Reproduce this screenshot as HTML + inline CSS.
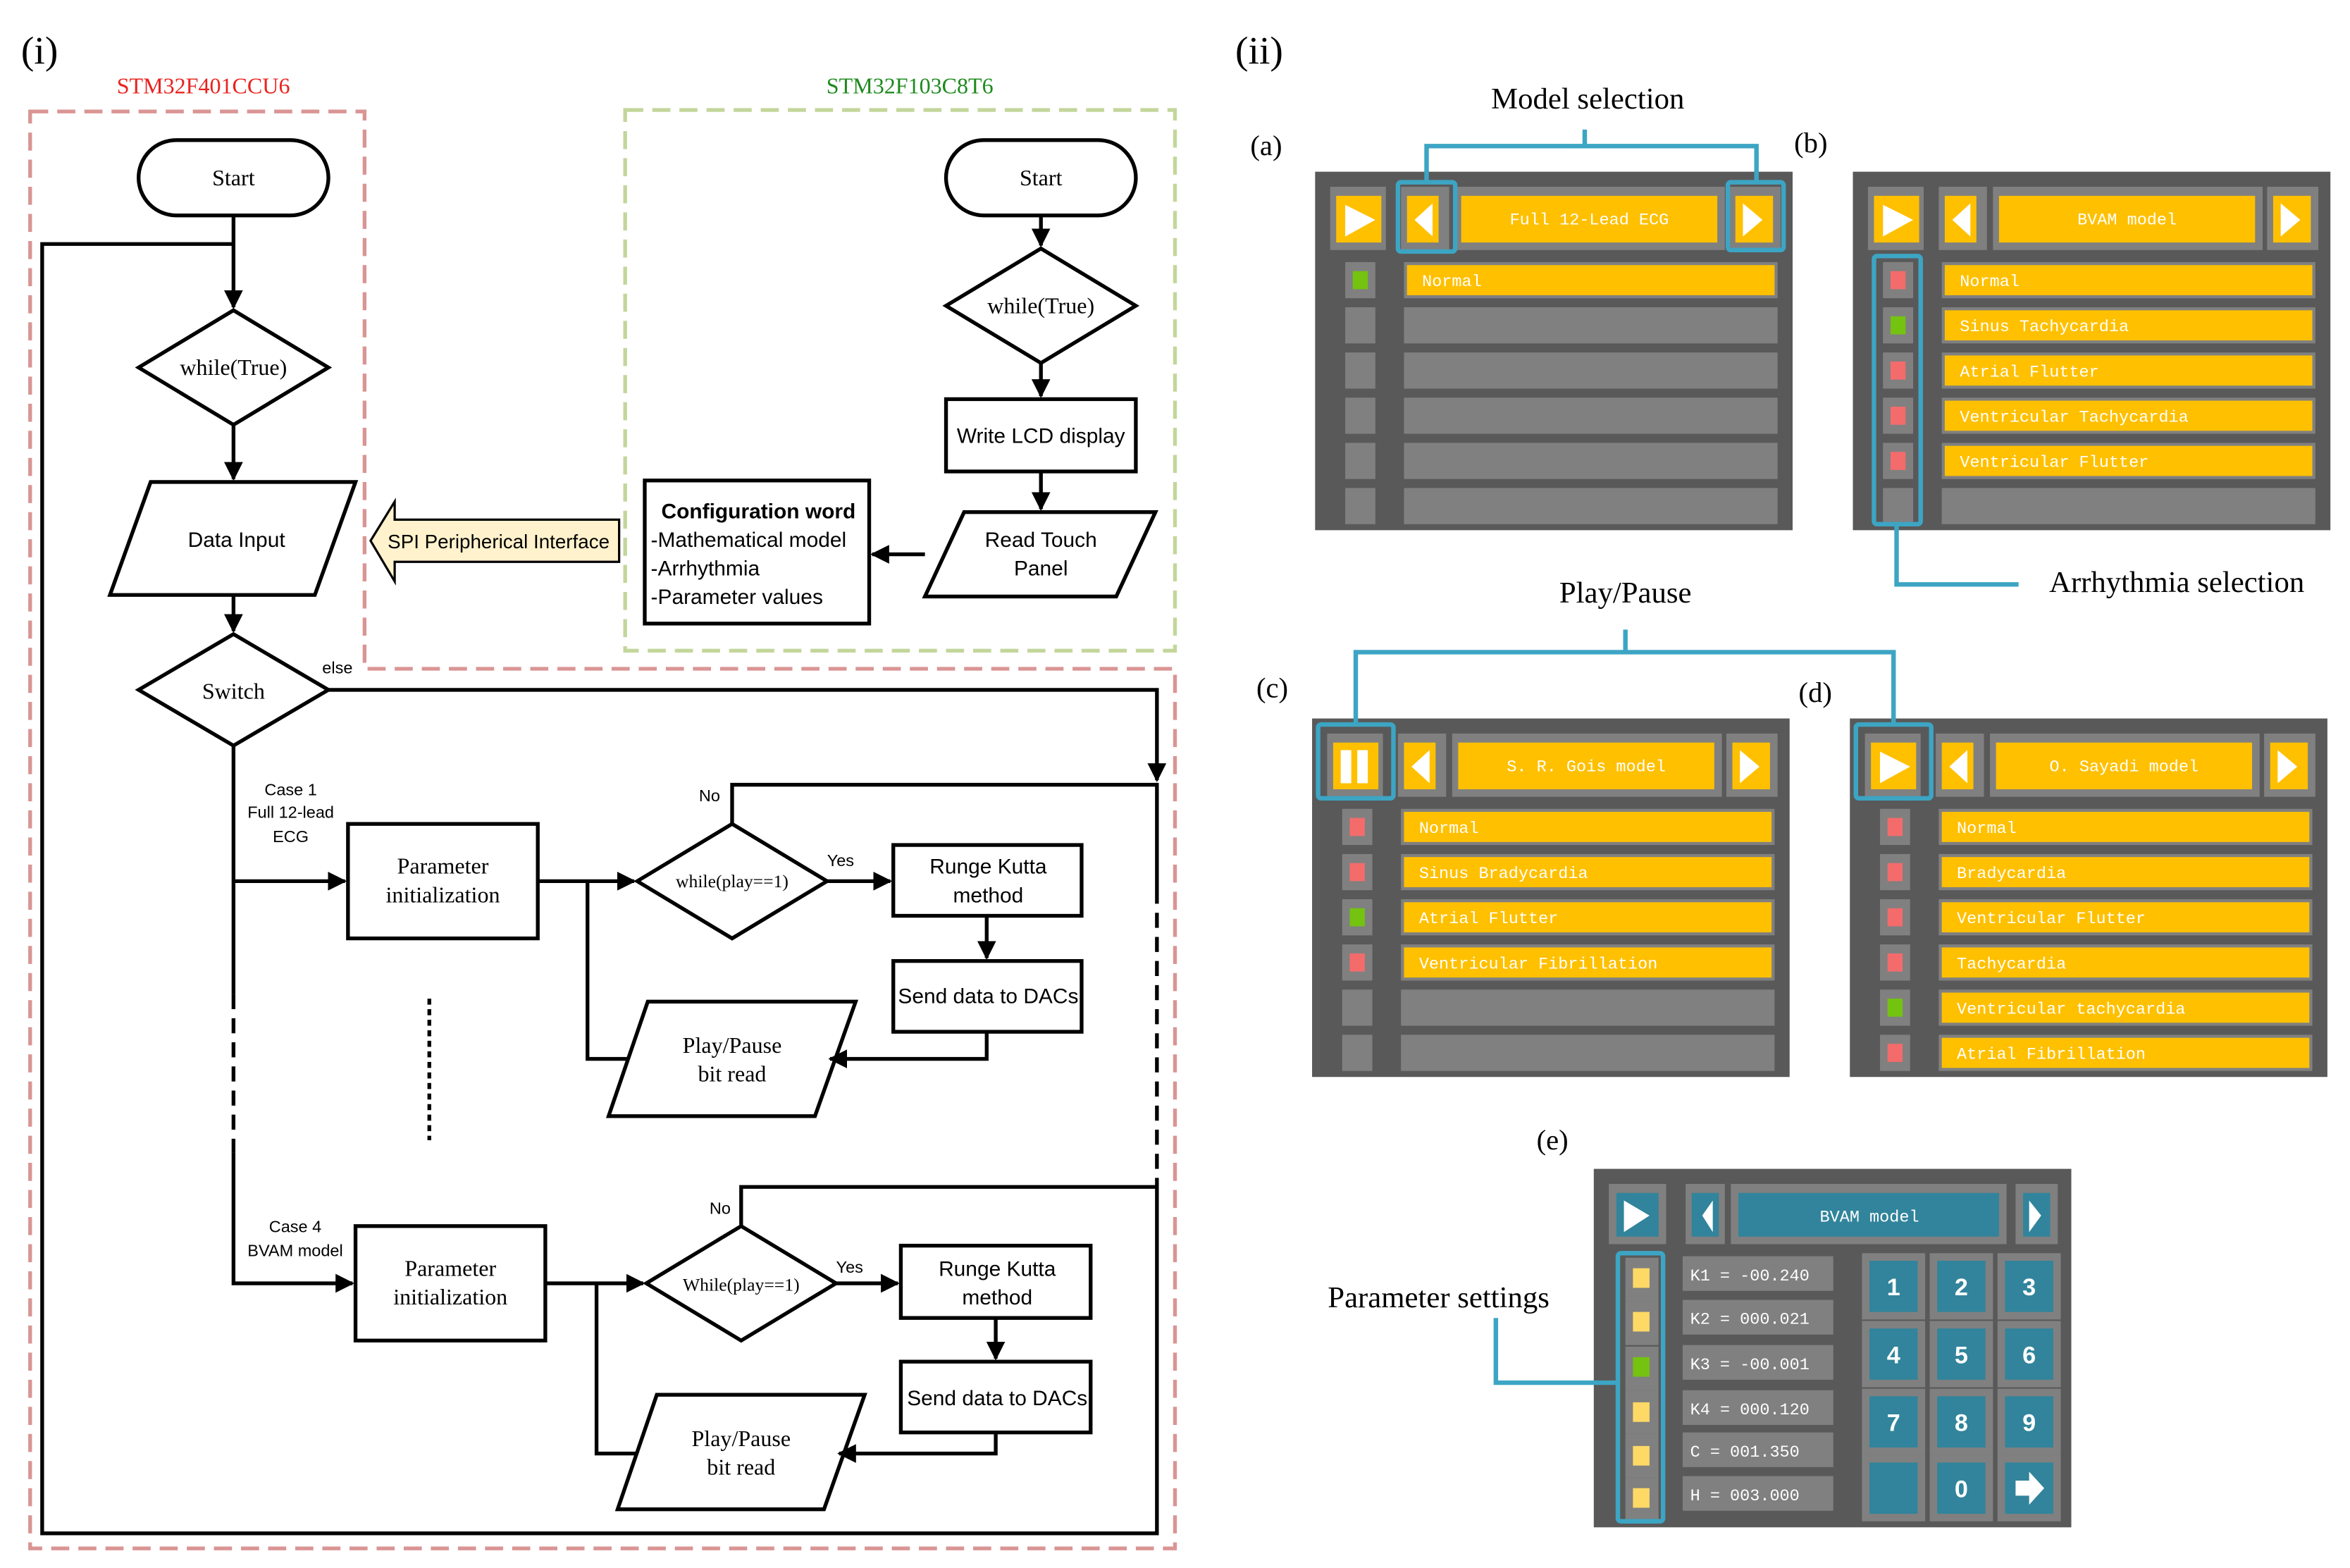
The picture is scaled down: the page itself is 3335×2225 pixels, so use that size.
<!DOCTYPE html>
<html><head><meta charset="utf-8"><style>
html,body{margin:0;padding:0;background:#fff}
svg{display:block}
.s{font-family:"Liberation Sans",sans-serif}
.r{font-family:"Liberation Serif",serif}
.m{font-family:"Liberation Mono",monospace;fill:#fff;font-size:11px}
</style></head><body>
<svg width="3335" height="2225" viewBox="0 0 1560 1041" preserveAspectRatio="none" xmlns="http://www.w3.org/2000/svg">
<defs>
<marker id="a" viewBox="0 0 10 10" refX="9" refY="5" markerWidth="5" markerHeight="5" orient="auto"><path d="M0,0L10,5L0,10z" fill="#000"/></marker>
<g id="hdr">
<rect x="0" y="0" width="317" height="238" fill="#595959"/>
<rect x="10" y="10" width="37" height="42" fill="#808080"/><rect x="14" y="16" width="30" height="31" fill="#FFC000"/>
<rect x="57" y="10" width="32" height="42" fill="#808080"/><rect x="61" y="16" width="21" height="31" fill="#FFC000"/>
<polygon points="78,21 66,32 78,43" fill="#fff"/>
<rect x="93" y="10" width="179" height="42" fill="#808080"/><rect x="97" y="16" width="170" height="31" fill="#FFC000"/>
<rect x="275" y="10" width="34" height="42" fill="#808080"/><rect x="279" y="16" width="25" height="31" fill="#FFC000"/>
<polygon points="284,21 297,32 284,43" fill="#fff"/>
</g>
<g id="play"><polygon points="20,22 40,32 20,43" fill="#fff"/></g>
<g id="rowE"><rect x="20" y="0" width="20" height="24" fill="#808080"/><rect x="59" y="0" width="248" height="24" fill="#808080"/></g>
<g id="rowY"><rect x="20" y="0" width="20" height="24" fill="#808080"/><rect x="59" y="0" width="248" height="24" fill="#808080"/><rect x="61" y="2" width="244" height="20" fill="#FFC000"/></g>
<g id="key"><rect x="0" y="0" width="42" height="44" fill="#808080"/><rect x="5" y="5" width="32" height="34" fill="#31849B"/></g>
</defs>

<!-- ===== Part (i) ===== -->
<text x="14" y="42" class="r" font-size="26">(i)</text>
<text x="820" y="42" class="r" font-size="26">(ii)</text>
<text x="135" y="62" class="r" font-size="15" fill="#E8231F" text-anchor="middle">STM32F401CCU6</text>
<text x="604" y="62" class="r" font-size="15" fill="#1E8A1E" text-anchor="middle">STM32F103C8T6</text>
<path d="M20,74H242V444H780V1028H20Z" fill="none" stroke="#D99594" stroke-width="2.5" stroke-dasharray="12,6"/>
<rect x="415" y="73" width="365" height="359" fill="none" stroke="#C3D69B" stroke-width="2.5" stroke-dasharray="12,6"/>

<g fill="none" stroke="#000" stroke-width="2.5">
<rect x="92" y="93" width="126" height="50" rx="25" fill="#fff"/>
<rect x="628" y="93" width="126" height="50" rx="25" fill="#fff"/>
<polygon points="92,244 155,206 218,244 155,282" fill="#fff"/>
<polygon points="628,203 691,165 754,203 691,241" fill="#fff"/>
<rect x="628" y="265" width="126" height="48" fill="#fff"/>
<polygon points="640,340 767,340 741,396 614,396" fill="#fff"/>
<rect x="428" y="319" width="149" height="95" fill="#fff"/>
<polygon points="100,320 236,320 209,395 73,395" fill="#fff"/>
<polygon points="92,458 155,421 218,458 155,495" fill="#fff"/>
<rect x="231" y="547" width="126" height="76"/>
<polygon points="423,585 486,547 549,585 486,623"/>
<rect x="593" y="561" width="125" height="47"/>
<rect x="593" y="638" width="125" height="47"/>
<polygon points="430,665 568,665 541,741 404,741"/>
<rect x="236" y="814" width="126" height="76"/>
<polygon points="429,852 492,814 555,852 492,890"/>
<rect x="598" y="827" width="126" height="48"/>
<rect x="598" y="904" width="126" height="47"/>
<polygon points="436,926 574,926 547,1002 410,1002"/>
</g>
<polygon points="246,359 262,333 262,345 411,345 411,373 262,373 262,386" fill="#FFF2CC" stroke="#000" stroke-width="1.5"/>

<g fill="none" stroke="#000" stroke-width="2.5">
<path d="M155,143V204" marker-end="url(#a)"/>
<path d="M155,162H28V1018H768V790"/>
<path d="M155,282V318" marker-end="url(#a)"/>
<path d="M155,395V419" marker-end="url(#a)"/>
<path d="M691,143V163" marker-end="url(#a)"/>
<path d="M691,241V263" marker-end="url(#a)"/>
<path d="M691,313V338" marker-end="url(#a)"/>
<path d="M614,368H579" marker-end="url(#a)"/>
<path d="M218,458H768V518" marker-end="url(#a)"/>
<path d="M486,547V521H768V590"/>
<path d="M768,590V790" stroke-dasharray="10,6"/>
<path d="M492,814V788H768"/>
<path d="M155,495V660"/>
<path d="M155,660V765" stroke-dasharray="10,6"/>
<path d="M155,765V852H234" marker-end="url(#a)"/>
<path d="M155,585H229" marker-end="url(#a)"/>
<path d="M357,585H421" marker-end="url(#a)"/>
<path d="M549,585H591" marker-end="url(#a)"/>
<path d="M655,608V636" marker-end="url(#a)"/>
<path d="M655,685V703H551" marker-end="url(#a)"/>
<path d="M417,703H390V585"/>
<path d="M362,852H427" marker-end="url(#a)"/>
<path d="M555,852H596" marker-end="url(#a)"/>
<path d="M661,875V902" marker-end="url(#a)"/>
<path d="M661,951V965H557" marker-end="url(#a)"/>
<path d="M423,965H396V852"/>
<path d="M285,663V757" stroke-dasharray="4,3"/>
</g>

<g font-size="15" text-anchor="middle">
<text x="155" y="123" class="r">Start</text>
<text x="691" y="123" class="r">Start</text>
<text x="155" y="249" class="r">while(True)</text>
<text x="691" y="208" class="r">while(True)</text>
<text x="691" y="294" class="s" font-size="14">Write LCD display</text>
<text x="691" y="363" class="s" font-size="14">Read Touch</text>
<text x="691" y="382" class="s" font-size="14">Panel</text>
<text x="157" y="363" class="s" font-size="14">Data Input</text>
<text x="155" y="464" class="r">Switch</text>
<text x="294" y="580" class="r">Parameter</text>
<text x="294" y="599" class="r">initialization</text>
<text x="486" y="589" class="r" font-size="12">while(play==1)</text>
<text x="656" y="580" class="s" font-size="14">Runge Kutta</text>
<text x="656" y="599" class="s" font-size="14">method</text>
<text x="656" y="666" class="s" font-size="14">Send data to DACs</text>
<text x="486" y="699" class="r">Play/Pause</text>
<text x="486" y="718" class="r">bit read</text>
<text x="299" y="847" class="r">Parameter</text>
<text x="299" y="866" class="r">initialization</text>
<text x="492" y="857" class="r" font-size="12">While(play==1)</text>
<text x="662" y="847" class="s" font-size="14">Runge Kutta</text>
<text x="662" y="866" class="s" font-size="14">method</text>
<text x="662" y="933" class="s" font-size="14">Send data to DACs</text>
<text x="492" y="960" class="r">Play/Pause</text>
<text x="492" y="979" class="r">bit read</text>
<text x="331" y="364" class="s" font-size="13">SPI Peripherical Interface</text>
</g>
<g class="s" font-size="14">
<text x="439" y="344" font-weight="bold">Configuration word</text>
<text x="432" y="363">-Mathematical model</text>
<text x="432" y="382">-Arrhythmia</text>
<text x="432" y="401">-Parameter values</text>
</g>
<g class="s" font-size="11" text-anchor="middle">
<text x="193" y="528">Case 1</text><text x="193" y="543">Full 12-lead</text><text x="193" y="559">ECG</text>
<text x="196" y="818">Case 4</text><text x="196" y="834">BVAM  model</text>
<text x="471" y="532">No</text><text x="558" y="575">Yes</text>
<text x="478" y="806">No</text><text x="564" y="845">Yes</text>
<text x="224" y="447">else</text>
</g>

<!-- ===== Part (ii) ===== -->
<g class="r" font-size="20">
<text x="1054" y="72" text-anchor="middle">Model selection</text>
<text x="1445" y="393" text-anchor="middle">Arrhythmia selection</text>
<text x="1079" y="400" text-anchor="middle">Play/Pause</text>
<text x="955" y="868" text-anchor="middle">Parameter settings</text>
<text x="830" y="103" font-size="19">(a)</text>
<text x="1191" y="101" font-size="19">(b)</text>
<text x="834" y="463" font-size="19">(c)</text>
<text x="1194" y="466" font-size="19">(d)</text>
<text x="1020" y="763" font-size="19">(e)</text>
</g>

<!-- (a) -->
<g transform="translate(873,114)">
<use href="#hdr"/><use href="#play"/>
<text x="182" y="35" class="m" text-anchor="middle">Full 12-Lead ECG</text>
<use href="#rowY" y="60"/><rect x="25" y="66" width="10" height="12" fill="#74C310"/><text x="71" y="76" class="m">Normal</text>
<use href="#rowE" y="90"/><use href="#rowE" y="120"/><use href="#rowE" y="150"/><use href="#rowE" y="180"/><use href="#rowE" y="210"/>
</g>
<!-- (b) -->
<g transform="translate(1230,114)">
<use href="#hdr"/><use href="#play"/>
<text x="182" y="35" class="m" text-anchor="middle">BVAM model</text>
<use href="#rowY" y="60"/><rect x="25" y="66" width="10" height="12" fill="#F46B6B"/><text x="71" y="76" class="m">Normal</text>
<use href="#rowY" y="90"/><rect x="25" y="96" width="10" height="12" fill="#74C310"/><text x="71" y="106" class="m">Sinus Tachycardia</text>
<use href="#rowY" y="120"/><rect x="25" y="126" width="10" height="12" fill="#F46B6B"/><text x="71" y="136" class="m">Atrial Flutter</text>
<use href="#rowY" y="150"/><rect x="25" y="156" width="10" height="12" fill="#F46B6B"/><text x="71" y="166" class="m">Ventricular Tachycardia</text>
<use href="#rowY" y="180"/><rect x="25" y="186" width="10" height="12" fill="#F46B6B"/><text x="71" y="196" class="m">Ventricular Flutter</text>
<use href="#rowE" y="210"/>
</g>
<!-- (c) -->
<g transform="translate(871,477)">
<use href="#hdr"/>
<rect x="19" y="21" width="7" height="22" fill="#fff"/><rect x="30" y="21" width="7" height="22" fill="#fff"/>
<text x="182" y="35" class="m" text-anchor="middle">S. R. Gois model</text>
<use href="#rowY" y="60"/><rect x="25" y="66" width="10" height="12" fill="#F46B6B"/><text x="71" y="76" class="m">Normal</text>
<use href="#rowY" y="90"/><rect x="25" y="96" width="10" height="12" fill="#F46B6B"/><text x="71" y="106" class="m">Sinus Bradycardia</text>
<use href="#rowY" y="120"/><rect x="25" y="126" width="10" height="12" fill="#74C310"/><text x="71" y="136" class="m">Atrial Flutter</text>
<use href="#rowY" y="150"/><rect x="25" y="156" width="10" height="12" fill="#F46B6B"/><text x="71" y="166" class="m">Ventricular Fibrillation</text>
<use href="#rowE" y="180"/><use href="#rowE" y="210"/>
</g>
<!-- (d) -->
<g transform="translate(1228,477)">
<use href="#hdr"/><use href="#play"/>
<text x="182" y="35" class="m" text-anchor="middle">O. Sayadi model</text>
<use href="#rowY" y="60"/><rect x="25" y="66" width="10" height="12" fill="#F46B6B"/><text x="71" y="76" class="m">Normal</text>
<use href="#rowY" y="90"/><rect x="25" y="96" width="10" height="12" fill="#F46B6B"/><text x="71" y="106" class="m">Bradycardia</text>
<use href="#rowY" y="120"/><rect x="25" y="126" width="10" height="12" fill="#F46B6B"/><text x="71" y="136" class="m">Ventricular Flutter</text>
<use href="#rowY" y="150"/><rect x="25" y="156" width="10" height="12" fill="#F46B6B"/><text x="71" y="166" class="m">Tachycardia</text>
<use href="#rowY" y="180"/><rect x="25" y="186" width="10" height="12" fill="#74C310"/><text x="71" y="196" class="m">Ventricular tachycardia</text>
<use href="#rowY" y="210"/><rect x="25" y="216" width="10" height="12" fill="#F46B6B"/><text x="71" y="226" class="m">Atrial Fibrillation</text>
</g>
<!-- (e) -->
<g transform="translate(1058,776)">
<rect x="0" y="0" width="317" height="238" fill="#595959"/>
<rect x="10" y="10" width="38" height="40" fill="#808080"/><rect x="15" y="16" width="28" height="29" fill="#31849B"/>
<polygon points="20,21 37,31 20,42" fill="#fff"/>
<rect x="61" y="10" width="26" height="40" fill="#808080"/><rect x="65" y="16" width="18" height="29" fill="#31849B"/>
<polygon points="79,21 72,31 79,42" fill="#fff"/>
<rect x="91" y="10" width="183" height="40" fill="#808080"/><rect x="96" y="16" width="173" height="29" fill="#31849B"/>
<text x="183" y="35" class="m" text-anchor="middle">BVAM model</text>
<rect x="280" y="10" width="28" height="40" fill="#808080"/><rect x="285" y="16" width="18" height="29" fill="#31849B"/>
<polygon points="289,21 297,31 289,42" fill="#fff"/>
<g fill="#808080">
<rect x="21" y="59" width="22" height="29"/><rect x="21" y="88" width="22" height="29"/><rect x="21" y="118" width="22" height="29"/><rect x="21" y="147" width="22" height="29"/><rect x="21" y="176" width="22" height="29"/><rect x="21" y="205" width="22" height="29"/>
<rect x="59" y="58" width="100" height="23"/><rect x="59" y="87" width="100" height="23"/><rect x="59" y="117" width="100" height="23"/><rect x="59" y="147" width="100" height="23"/><rect x="59" y="175" width="100" height="23"/><rect x="59" y="204" width="100" height="23"/>
</g>
<g fill="#FFD966">
<rect x="26" y="66" width="11" height="13"/><rect x="26" y="95" width="11" height="13"/><rect x="26" y="155" width="11" height="13"/><rect x="26" y="184" width="11" height="13"/><rect x="26" y="212" width="11" height="13"/>
</g>
<rect x="26" y="125" width="11" height="13" fill="#74C310"/>
<use href="#key" x="178" y="56"/><use href="#key" x="223" y="56"/><use href="#key" x="268" y="56"/>
<use href="#key" x="178" y="101"/><use href="#key" x="223" y="101"/><use href="#key" x="268" y="101"/>
<use href="#key" x="178" y="146"/><use href="#key" x="223" y="146"/><use href="#key" x="268" y="146"/>
<use href="#key" x="178" y="190"/><use href="#key" x="223" y="190"/><use href="#key" x="268" y="190"/>
<g class="m" font-size="12">
<text x="64" y="74">K1 = -00.240</text><text x="64" y="103">K2 = 000.021</text><text x="64" y="133">K3 = -00.001</text>
<text x="64" y="163">K4 = 000.120</text><text x="64" y="191">C  = 001.350</text><text x="64" y="220">H  = 003.000</text>
</g>
<g font-family="Liberation Sans,sans-serif" font-size="16" font-weight="bold" fill="#fff" text-anchor="middle">
<text x="199" y="84">1</text><text x="244" y="84">2</text><text x="289" y="84">3</text>
<text x="199" y="129">4</text><text x="244" y="129">5</text><text x="289" y="129">6</text>
<text x="199" y="174">7</text><text x="244" y="174">8</text><text x="289" y="174">9</text>
<text x="244" y="218">0</text>
</g>
<polygon points="280,207 289,207 289,201 299,212 289,223 289,217 280,217" fill="#fff"/>
</g>

<!-- highlight annotations -->
<g fill="none" stroke="#3DA5C4" stroke-width="3">
<path d="M947,121V97H1166V121M1052,97V86"/>
<rect x="928" y="121" width="38" height="46" rx="2"/>
<rect x="1147" y="121" width="37" height="45" rx="2"/>
<rect x="1244" y="170" width="31" height="178" rx="2"/>
<path d="M1259,348V388H1340"/>
<path d="M900,480V433H1257V480M1079,433V418"/>
<rect x="875" y="481" width="50" height="49" rx="2"/>
<rect x="1232" y="481" width="50" height="49" rx="2"/>
<rect x="1074" y="832" width="30" height="178" rx="2"/>
<path d="M993,875V918H1074"/>
</g>
</svg>
</body></html>
